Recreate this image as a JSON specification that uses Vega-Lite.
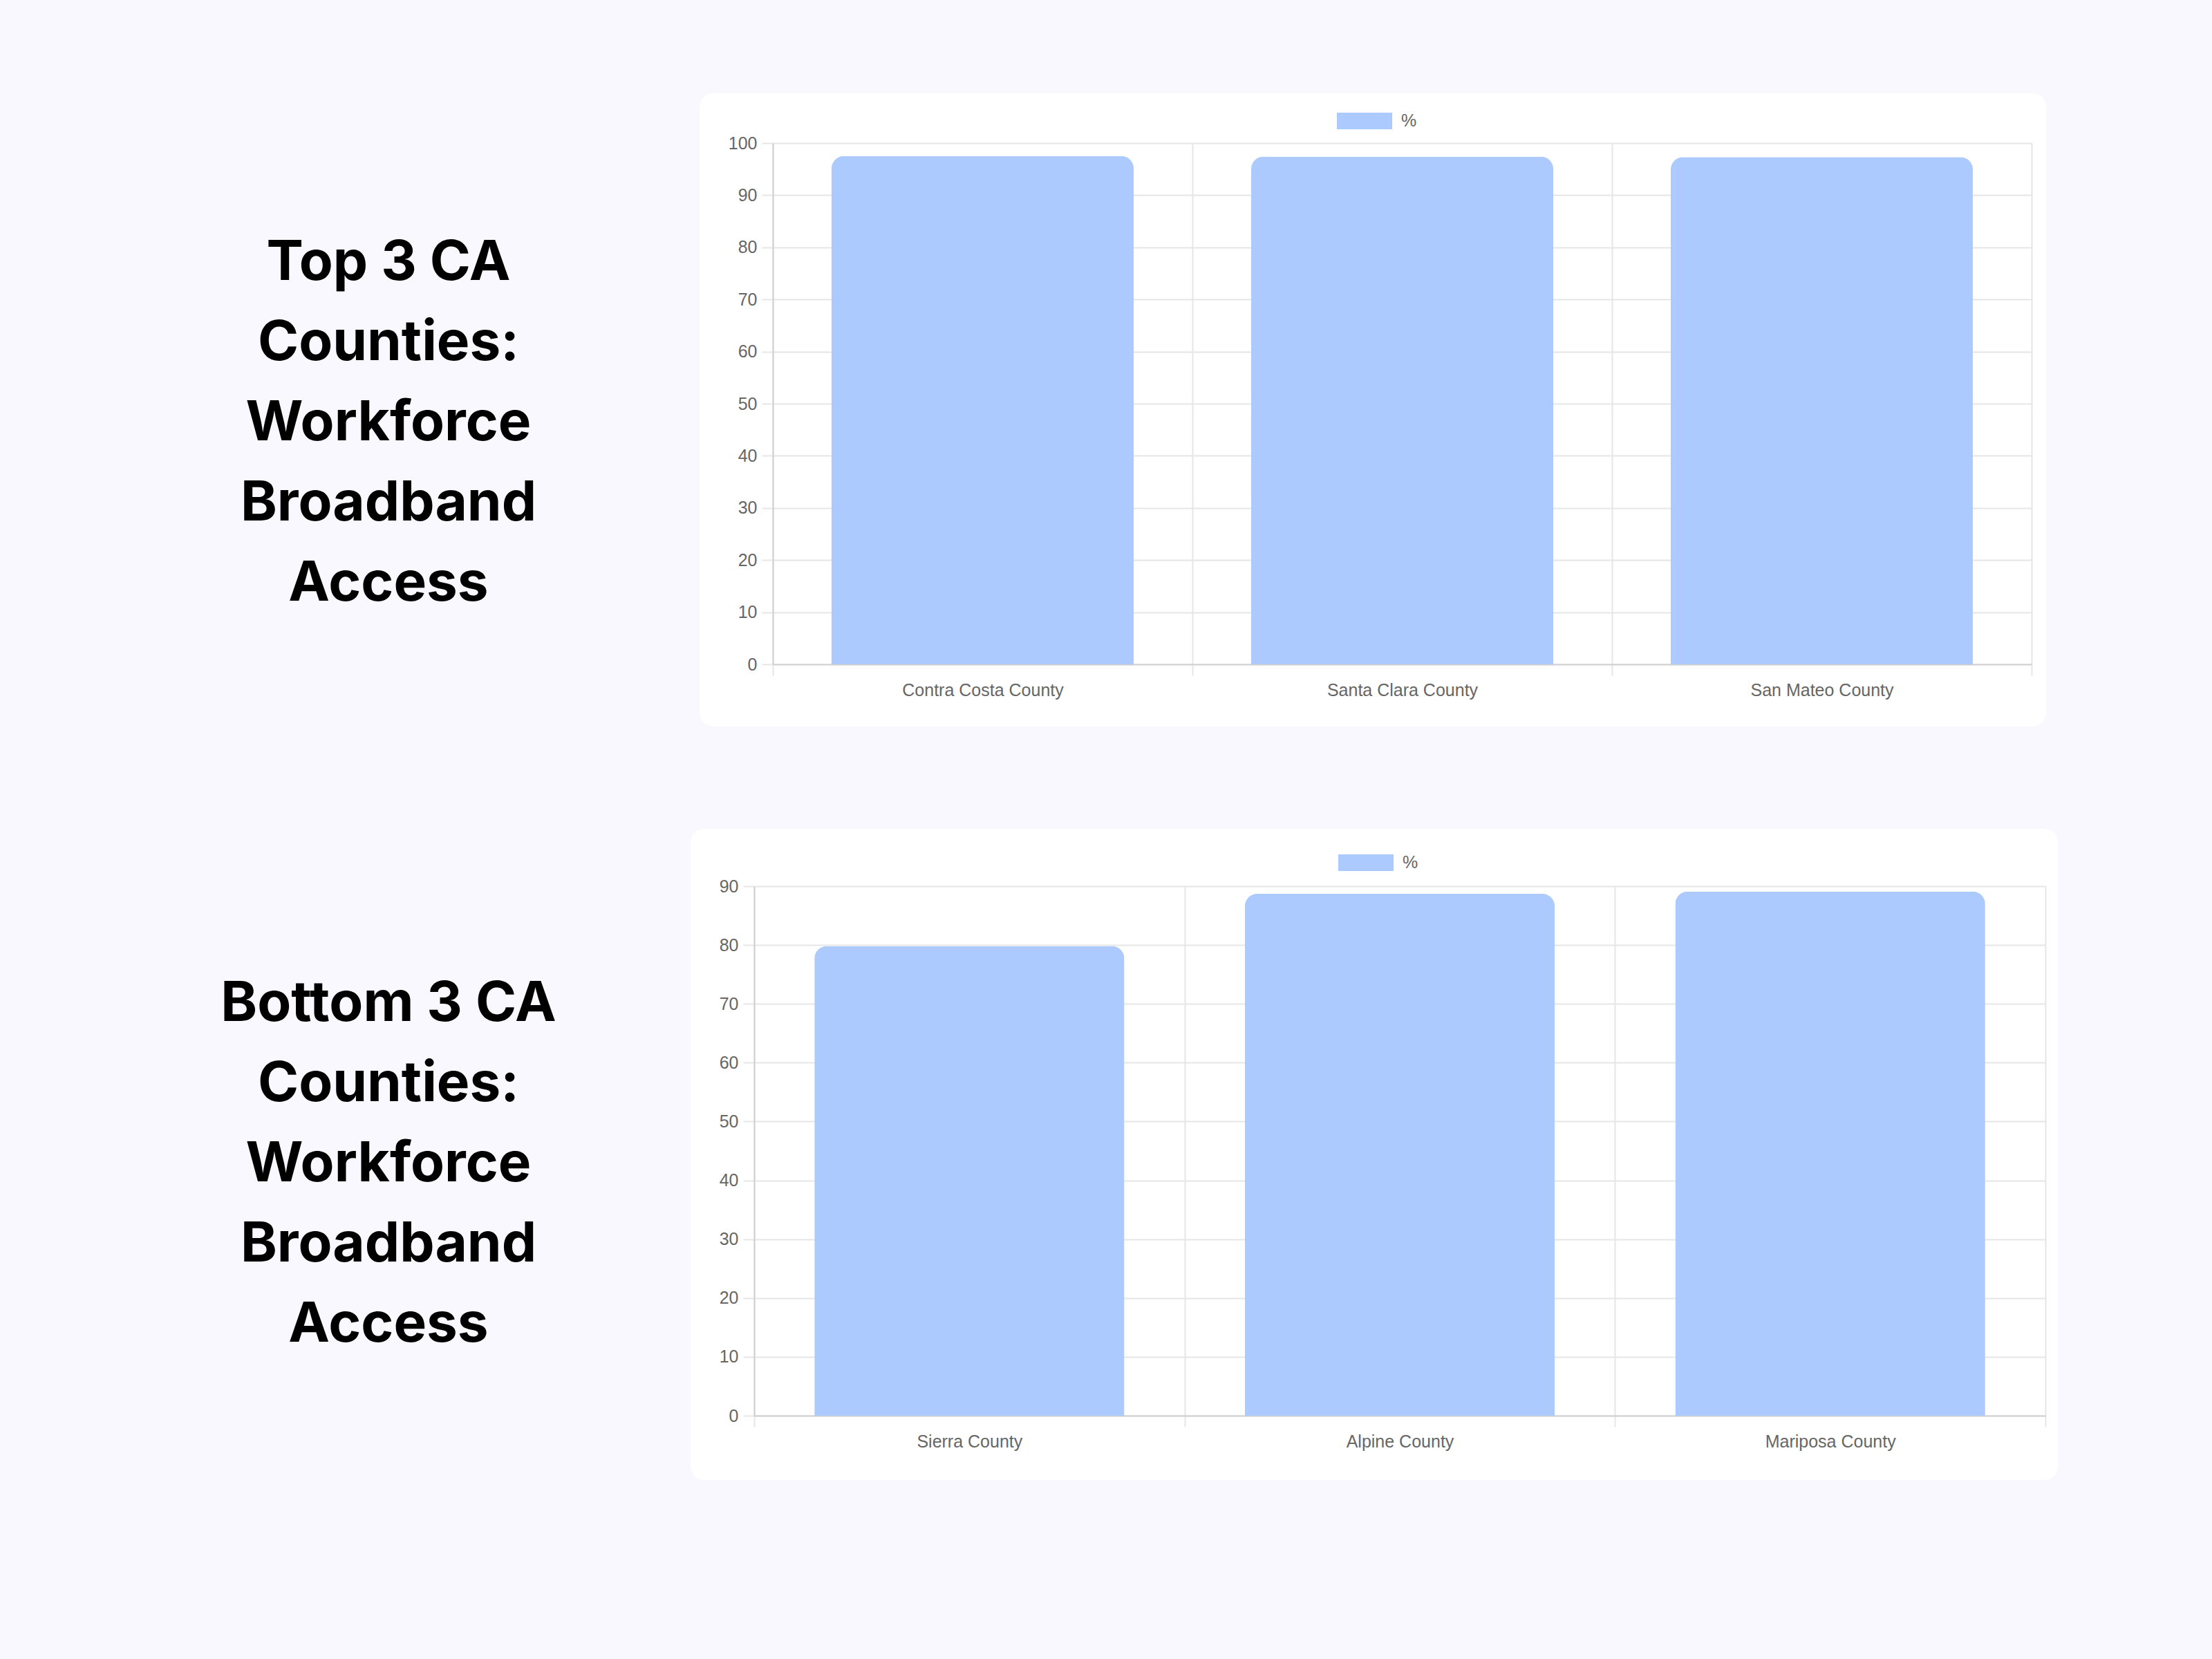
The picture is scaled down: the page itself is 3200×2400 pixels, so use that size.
{
  "$schema": "https://vega.github.io/schema/vega-lite/v6.json",
  "background": "#f8f8fe",
  "padding": {"left": 262, "top": 135, "right": 223, "bottom": 259},
  "config": {
    "view": {"stroke": null},
    "font": "Liberation Sans",
    "axis": {
      "labelFont": "Liberation Sans",
      "labelFontSize": 25,
      "labelColor": "#666666",
      "labelLimit": 0,
      "title": null,
      "tickSize": 16,
      "tickWidth": 2,
      "tickColor": "#e6e6e6",
      "gridColor": "#e6e6e6",
      "gridWidth": 2,
      "domainColor": "#cfcfcf",
      "domainWidth": 2
    },
    "legend": {
      "labelFont": "Liberation Sans",
      "labelFontSize": 25,
      "labelColor": "#666666"
    }
  },
  "datasets": {
    "top": [
      {"county": "Contra Costa County", "pct": 97.5},
      {"county": "Santa Clara County", "pct": 97.4},
      {"county": "San Mateo County", "pct": 97.3}
    ],
    "bottom": [
      {"county": "Sierra County", "pct": 79.8},
      {"county": "Alpine County", "pct": 88.7},
      {"county": "Mariposa County", "pct": 89.1}
    ],
    "topTitle": [
      {"line": "Top 3 CA"},
      {"line": "Counties:"},
      {"line": "Workforce"},
      {"line": "Broadband"},
      {"line": "Access"}
    ],
    "bottomTitle": [
      {"line": "Bottom 3 CA"},
      {"line": "Counties:"},
      {"line": "Workforce"},
      {"line": "Broadband"},
      {"line": "Access"}
    ]
  },
  "spacing": 148,
  "resolve": {"scale": {"color": "independent"}, "legend": {"color": "independent"}},
  "vconcat": [
    {
      "spacing": 150,
      "resolve": {"scale": {"color": "independent"}, "legend": {"color": "independent"}},
      "hconcat": [
        {
          "width": 600,
          "height": 916,
          "data": {"name": "topTitle"},
          "mark": {
            "type": "text",
            "font": "Inter",
            "fontWeight": "bold",
            "fontSize": 80,
            "align": "center",
            "baseline": "middle",
            "color": "#000000"
          },
          "encoding": {
            "text": {"field": "line", "type": "nominal"},
            "x": {"datum": "t", "type": "nominal", "axis": null},
            "y": {
              "field": "line",
              "type": "ordinal",
              "sort": null,
              "axis": null,
              "scale": {"type": "point", "padding": 0, "range": [246, 710]}
            }
          }
        },
        {
          "width": 1948,
          "height": 916,
          "view": {"fill": "#ffffff", "cornerRadius": 20, "stroke": null},
          "data": {"name": "top"},
          "resolve": {"axis": {"x": "independent"}},
          "layer": [
            {
              "mark": {"type": "bar", "width": {"band": 0.72}, "opacity": 0},
              "encoding": {
                "x": {
                  "field": "county",
                  "type": "nominal",
                  "sort": null,
                  "scale": {"range": [106, 1927], "paddingInner": 0, "paddingOuter": 0},
                  "axis": {
                    "orient": "top",
                    "offset": -72,
                    "tickBand": "extent",
                    "grid": true,
                    "labels": false,
                    "ticks": false,
                    "domain": false
                  }
                },
                "y": {
                  "field": "pct",
                  "type": "quantitative",
                  "scale": {"domain": [0, 100], "range": [826, 72], "nice": false},
                  "axis": {
                    "orient": "left",
                    "offset": -106,
                    "values": [0, 10, 20, 30, 40, 50, 60, 70, 80, 90, 100],
                    "grid": true,
                    "labelPadding": 7
                  }
                }
              }
            },
            {
              "mark": {"type": "bar", "width": {"band": 0.72}, "cornerRadiusEnd": 18},
              "encoding": {
                "x": {
                  "field": "county",
                  "type": "nominal",
                  "sort": null,
                  "scale": {"range": [106, 1927], "paddingInner": 0, "paddingOuter": 0},
                  "axis": {
                    "orient": "bottom",
                    "offset": -90,
                    "tickBand": "extent",
                    "grid": false,
                    "labelAngle": 0,
                    "labelPadding": 9
                  }
                },
                "y": {
                  "field": "pct",
                  "type": "quantitative",
                  "scale": {"domain": [0, 100], "range": [826, 72], "nice": false},
                  "axis": {
                    "orient": "left",
                    "offset": -106,
                    "values": [0, 10, 20, 30, 40, 50, 60, 70, 80, 90, 100],
                    "grid": true,
                    "labelPadding": 7
                  }
                },
                "color": {
                  "datum": "%",
                  "scale": {"range": ["#accafe"]},
                  "legend": {
                    "orient": "none",
                    "legendX": 922,
                    "legendY": 0,
                    "title": null,
                    "padding": 0,
                    "symbolType": "M-1,-0.3H1V0.3H-1Z",
                    "symbolSize": 6400,
                    "symbolStrokeWidth": 0,
                    "labelOffset": 13
                  }
                }
              }
            }
          ]
        }
      ]
    },
    {
      "spacing": 137,
      "resolve": {"scale": {"color": "independent"}, "legend": {"color": "independent"}},
      "hconcat": [
        {
          "width": 600,
          "height": 942,
          "data": {"name": "bottomTitle"},
          "mark": {
            "type": "text",
            "font": "Inter",
            "fontWeight": "bold",
            "fontSize": 80,
            "align": "center",
            "baseline": "middle",
            "color": "#000000"
          },
          "encoding": {
            "text": {"field": "line", "type": "nominal"},
            "x": {"datum": "t", "type": "nominal", "axis": null},
            "y": {
              "field": "line",
              "type": "ordinal",
              "sort": null,
              "axis": null,
              "scale": {"type": "point", "padding": 0, "range": [254, 718]}
            }
          }
        },
        {
          "width": 1978,
          "height": 942,
          "view": {"fill": "#ffffff", "cornerRadius": 20, "stroke": null},
          "data": {"name": "bottom"},
          "resolve": {"axis": {"x": "independent"}},
          "layer": [
            {
              "mark": {"type": "bar", "width": {"band": 0.72}, "opacity": 0},
              "encoding": {
                "x": {
                  "field": "county",
                  "type": "nominal",
                  "sort": null,
                  "scale": {"range": [92, 1960], "paddingInner": 0, "paddingOuter": 0},
                  "axis": {
                    "orient": "top",
                    "offset": -83,
                    "tickBand": "extent",
                    "grid": true,
                    "labels": false,
                    "ticks": false,
                    "domain": false
                  }
                },
                "y": {
                  "field": "pct",
                  "type": "quantitative",
                  "scale": {"domain": [0, 90], "range": [849, 83], "nice": false},
                  "axis": {
                    "orient": "left",
                    "offset": -92,
                    "values": [0, 10, 20, 30, 40, 50, 60, 70, 80, 90],
                    "grid": true,
                    "labelPadding": 7
                  }
                }
              }
            },
            {
              "mark": {"type": "bar", "width": {"band": 0.72}, "cornerRadiusEnd": 18},
              "encoding": {
                "x": {
                  "field": "county",
                  "type": "nominal",
                  "sort": null,
                  "scale": {"range": [92, 1960], "paddingInner": 0, "paddingOuter": 0},
                  "axis": {
                    "orient": "bottom",
                    "offset": -93,
                    "tickBand": "extent",
                    "grid": false,
                    "labelAngle": 0,
                    "labelPadding": 9
                  }
                },
                "y": {
                  "field": "pct",
                  "type": "quantitative",
                  "scale": {"domain": [0, 90], "range": [849, 83], "nice": false},
                  "axis": {
                    "orient": "left",
                    "offset": -92,
                    "values": [0, 10, 20, 30, 40, 50, 60, 70, 80, 90],
                    "grid": true,
                    "labelPadding": 7
                  }
                },
                "color": {
                  "datum": "%",
                  "scale": {"range": ["#accafe"]},
                  "legend": {
                    "orient": "none",
                    "legendX": 937,
                    "legendY": 9,
                    "title": null,
                    "padding": 0,
                    "symbolType": "M-1,-0.3H1V0.3H-1Z",
                    "symbolSize": 6400,
                    "symbolStrokeWidth": 0,
                    "labelOffset": 13
                  }
                }
              }
            }
          ]
        }
      ]
    }
  ]
}
